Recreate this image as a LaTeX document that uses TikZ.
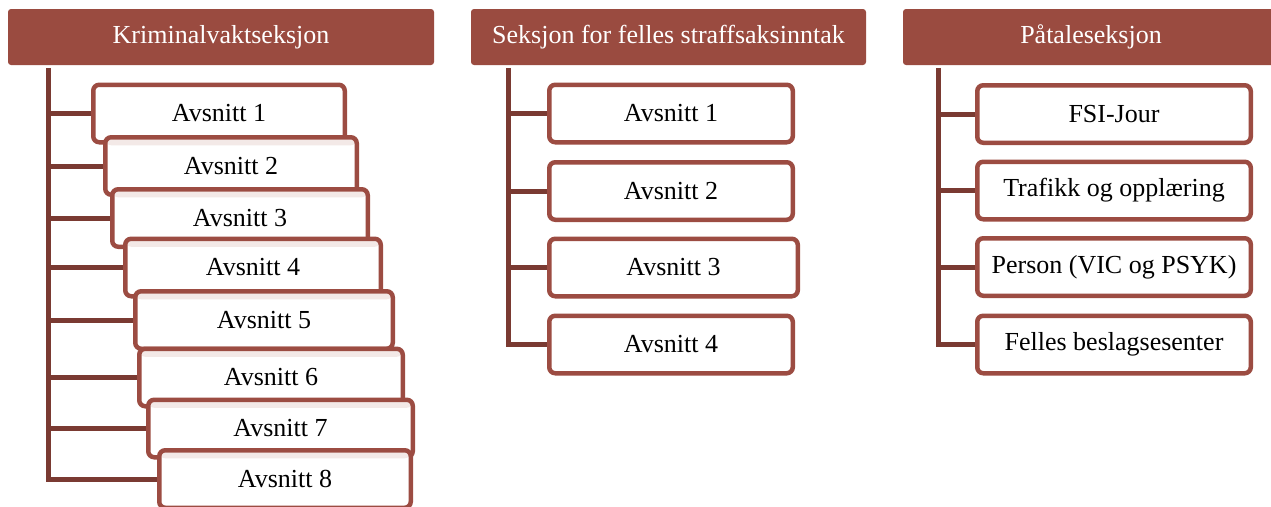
\documentclass[tikz,border=0pt]{standalone}
\usepackage{fontspec}
\setmainfont{Liberation Serif}
\usepackage{xcolor}
\usepackage{tikz}
\definecolor{kopfrot}{HTML}{9A4B40}
\definecolor{rammerot}{HTML}{9C4C42}
\definecolor{linjerot}{HTML}{7A3A32}
\definecolor{bandrosa}{HTML}{F3E9E7}
\tikzstyle{kopf} = [fill=kopfrot,
	rounded corners=3pt,
	text=white,
	inner sep=0pt,
	minimum height=56pt
	]
\tikzstyle{avsnitt} = [draw=rammerot, fill=white,
	line width=4.5pt,
	rounded corners=6pt,
	inner sep=0pt,
	minimum height=57.5pt
	]
\tikzstyle{stufe} = [avsnitt,
	path picture={\fill[bandrosa]
		([yshift=-2.25pt]path picture bounding box.north west) rectangle
		([yshift=-8pt]path picture bounding box.north east);}
	]
\tikzstyle{linje} = [draw=linjerot,
	line width=5pt
	]
\begin{document}
\begin{tikzpicture}[x=1pt, y=-1pt, font=\fontsize{26}{30}\selectfont]
    \useasboundingbox (0,0) rectangle (1271,506);
    \clip (0,0) rectangle (1271,506);

    % Seksjoner
    \node [kopf, minimum width=426pt] (kv) at (221,37) {Kriminalvaktseksjon};
    \node [kopf, minimum width=395pt] (fs) at (668.5,37) {Seksjon for felles straffsaksinntak};
    \node [kopf, minimum width=376pt] (pa) at (1091,37) {Påtaleseksjon};

    \coordinate (kvtop) at (48,68);
    \coordinate (fstop) at (508,68);
    \coordinate (patop) at (938,68);

    % Kriminalvaktseksjon
    \node [avsnitt, minimum width=251.5pt] (kv1) at (219,113.5) {Avsnitt 1};
    \node [stufe, minimum width=251.5pt] (kv2) at (231,166) {Avsnitt 2};
    \node [stufe, minimum width=255.5pt] (kv3) at (240,218) {Avsnitt 3};
    \node [stufe, minimum width=255.5pt] (kv4) at (253,267.5) {Avsnitt 4};
    \node [stufe, minimum width=257.5pt] (kv5) at (264,320) {Avsnitt 5};
    \node [stufe, minimum width=263.5pt] (kv6) at (271,377.5) {Avsnitt 6};
    \node [stufe, minimum width=264.5pt] (kv7) at (280.5,428.5) {Avsnitt 7};
    \node [stufe, minimum width=251.5pt] (kv8) at (285,479) {Avsnitt 8};

    % Seksjon for felles straffsaksinntak
    \node [avsnitt, minimum width=243.5pt] (fs1) at (671,113.5) {Avsnitt 1};
    \node [avsnitt, minimum width=243.5pt] (fs2) at (671,191) {Avsnitt 2};
    \node [avsnitt, minimum width=248.5pt] (fs3) at (673.5,267.5) {Avsnitt 3};
    \node [avsnitt, minimum width=243.5pt] (fs4) at (671,344.5) {Avsnitt 4};

    % Påtaleseksjon
    \node [avsnitt, minimum width=273.5pt] (pa1) at (1114,114) {FSI-Jour};
    \node [avsnitt, minimum width=273.5pt] (pa2) at (1114,190.5) {Trafikk og opplæring};
    \node [avsnitt, minimum width=273.5pt] (pa3) at (1114,267) {Person (VIC og PSYK)};
    \node [avsnitt, minimum width=273.5pt] (pa4) at (1114,344.5) {Felles beslagsesenter};

    \draw [linje] (kvtop) |- (kv1) (kvtop) |- (kv2) (kvtop) |- (kv3)
    	(kvtop) |- (kv4) (kvtop) |- (kv5) (kvtop) |- (kv6)
    	(kvtop) |- (kv7) (kvtop) |- (kv8);
    \draw [linje] (fstop) |- (fs1) (fstop) |- (fs2)
    	(fstop) |- (fs3) (fstop) |- (fs4);
    \draw [linje] (patop) |- (pa1) (patop) |- (pa2)
    	(patop) |- (pa3) (patop) |- (pa4);
\end{tikzpicture}
\end{document}
